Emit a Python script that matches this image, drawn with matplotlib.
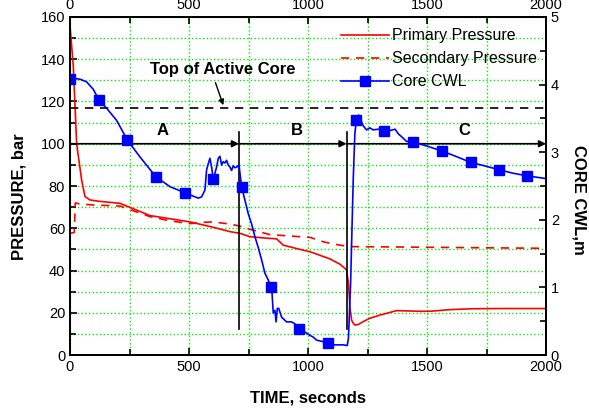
import numpy as np
import matplotlib
matplotlib.use('Agg')
import matplotlib.pyplot as plt
from matplotlib.ticker import MultipleLocator

plt.rcParams['font.family'] = ['Liberation Sans', 'DejaVu Sans']

# Primary pressure, bar
t_prim = [0, 14, 28, 49, 63, 84, 120, 210, 336, 420, 504, 600, 672, 714, 756, 826, 868,
          896, 966, 1008, 1092, 1134, 1155, 1162, 1170, 1176, 1183, 1190, 1197, 1211,
          1232, 1260, 1303, 1372, 1470, 1513, 1600, 1695, 1800, 2000]
p_prim = [156, 136.5, 100, 82.8, 75, 73.4, 72.8, 71.8, 66, 64.5, 63, 60.5, 58.4, 57.6, 56,
          55.3, 55, 52, 50, 48.9, 45.5, 43, 41, 40.2, 34, 23, 16.6, 15, 14.2, 14.4,
          15.8, 17.4, 18.9, 21, 20.7, 20.7, 21.5, 21.9, 22, 22]

# Secondary pressure, bar
t_sec = [0, 18, 22, 40, 100, 210, 336, 420, 504, 560, 600, 672, 714, 756, 840, 966, 1008,
         1064, 1092, 1134, 1176, 1300, 1500, 1700, 2000]
p_sec = [57.6, 58, 72, 71.5, 71, 70.5, 65.5, 63.5, 62.2, 62.8, 63, 62, 61, 59.5, 57, 56,
         55.7, 53.6, 52.9, 52, 51.3, 51.2, 51, 50.8, 50.5]

# Core collapsed water level, m
t_cwl = [0, 20, 42, 70, 98, 122, 154, 196, 241, 294, 360, 420, 483, 525, 539, 553, 567,
         574, 581, 588, 595, 602, 609, 616, 623, 630, 637, 644, 651, 658, 665, 672, 679,
         686, 693, 700, 710, 721, 735, 749, 763, 777, 791, 805, 819, 833, 843, 849, 854,
         861, 866, 871, 877, 889, 910, 931, 945, 962, 975, 987, 1000, 1008, 1020, 1036,
         1060, 1083, 1106, 1148, 1165, 1170, 1179, 1190, 1197, 1203, 1212, 1216, 1225,
         1232, 1246, 1260, 1274, 1295, 1319, 1344, 1366, 1380, 1393, 1414, 1443, 1500,
         1561, 1620, 1683, 1740, 1803, 1860, 1921, 2000]
cwl = [4.08, 4.09, 4.08, 4.04, 3.93, 3.77, 3.65, 3.47, 3.18, 2.93, 2.64, 2.49, 2.40, 2.34,
       2.32, 2.34, 2.44, 2.74, 2.83, 2.91, 2.78, 2.60, 2.69, 2.78, 2.91, 2.94, 2.81, 2.86,
       2.84, 2.88, 2.81, 2.78, 2.73, 2.80, 2.77, 2.78, 2.81, 2.49, 2.29, 2.09, 1.94, 1.75,
       1.59, 1.41, 1.21, 1.11, 1.00, 0.91, 0.62, 0.66, 0.49, 0.69, 0.69, 0.56, 0.49, 0.49,
       0.46, 0.39, 0.37, 0.34, 0.31, 0.29, 0.27, 0.22, 0.20, 0.18, 0.15, 0.15, 0.14, 0.25,
       1.06, 2.59, 3.28, 3.47, 3.55, 3.47, 3.45, 3.39, 3.33, 3.36, 3.33, 3.34, 3.32, 3.32,
       3.34, 3.27, 3.23, 3.16, 3.15, 3.09, 3.02, 2.94, 2.85, 2.80, 2.74, 2.69, 2.65, 2.61]
t_marks = [0, 122, 241, 360, 483, 602, 721, 843, 962, 1083, 1203, 1319, 1443, 1561, 1683,
           1803, 1921]

top_core = 117
t_phase = [0, 710, 1162, 2000]
phase_names = ['A', 'B', 'C']
phase_label_t = [390, 955, 1655]

fig = plt.figure(figsize=(5.89, 4.11), dpi=100)
ax = fig.add_axes([70/589, 56/411, 476/589, 338/411])
ax2 = ax.twinx()

ax.plot(t_prim, p_prim, color='#ff0000', lw=1.2, label='Primary Pressure')
ax.plot(t_sec, p_sec, color='#ff0000', lw=1.2, ls=(0, (5, 4)), label='Secondary Pressure')
marks = list(np.nonzero(np.isin(t_cwl, t_marks))[0])
ax2.plot(t_cwl, cwl, color='#0000ff', lw=1.2, marker='s', ms=6.5, markevery=marks,
         label='Core CWL')

# top of active core
ax.axhline(top_core, color='black', lw=1.2, ls=(0, (5, 4)))
ax.annotate('Top of Active Core', xy=(648, top_core), xytext=(640, 135),
            ha='center', va='center', fontsize=12, fontweight='bold',
            arrowprops=dict(arrowstyle='-|>', color='black', lw=1,
                            relpos=(0.44, 0), mutation_scale=8))

# phase arrows
for i in range(3):
    ax.annotate('', xy=(t_phase[i+1], 100), xytext=(t_phase[i], 100),
                arrowprops=dict(arrowstyle='-|>', color='black', lw=1.2,
                                shrinkA=0, shrinkB=0, mutation_scale=10))
    ax.text(phase_label_t[i], 106.5, phase_names[i],
            ha='center', va='center', fontsize=12, fontweight='bold')
for tp in t_phase[1:3]:
    ax.plot([tp, tp], [12.5, 105.7], color='black', lw=1.2)

ax.set_xlim(0, 2000)
ax.set_ylim(0, 160)
ax2.set_ylim(0, 5)

ax.xaxis.set_major_locator(MultipleLocator(500))
ax.xaxis.set_minor_locator(MultipleLocator(250))
ax.yaxis.set_major_locator(MultipleLocator(20))
ax.yaxis.set_minor_locator(MultipleLocator(10))
ax2.yaxis.set_major_locator(MultipleLocator(1))
ax2.yaxis.set_minor_locator(MultipleLocator(0.5))

ax.grid(True, which='both', color='#00ee00', ls=':', lw=1)
ax.set_axisbelow(True)

ax.tick_params(which='both', direction='in', top=True, labeltop=True, right=False,
               labelsize=10.5, width=1.2)
ax.tick_params(which='major', length=5)
ax.tick_params(which='minor', length=4)
ax2.tick_params(which='both', direction='in', labelsize=10.5, width=1.2)
ax2.tick_params(which='major', length=5)
ax2.tick_params(which='minor', length=4)
for a in (ax, ax2):
    for s in a.spines.values():
        s.set_linewidth(1.4)

ax.set_xlabel('TIME, seconds', fontsize=12, fontweight='bold')
ax.set_ylabel('PRESSURE, bar', fontsize=12, fontweight='bold')
ax2.set_ylabel('CORE CWL,m', fontsize=12, fontweight='bold', rotation=270, labelpad=14)
ax.yaxis.set_label_coords(-0.092, 0.47)
ax2.yaxis.set_label_coords(1.085, 0.46)
ax.xaxis.set_label_coords(0.5, -0.105)

h1, l1 = ax.get_legend_handles_labels()
h2, l2 = ax2.get_legend_handles_labels()
ax2.legend(h1 + h2, l1 + l2, loc='upper left', bbox_to_anchor=(0.55, 0.995),
           frameon=False, fontsize=11.5, handlelength=3, labelspacing=0.5,
           handletextpad=0.2, borderaxespad=0.2)

fig.savefig('out.png', dpi=100)
